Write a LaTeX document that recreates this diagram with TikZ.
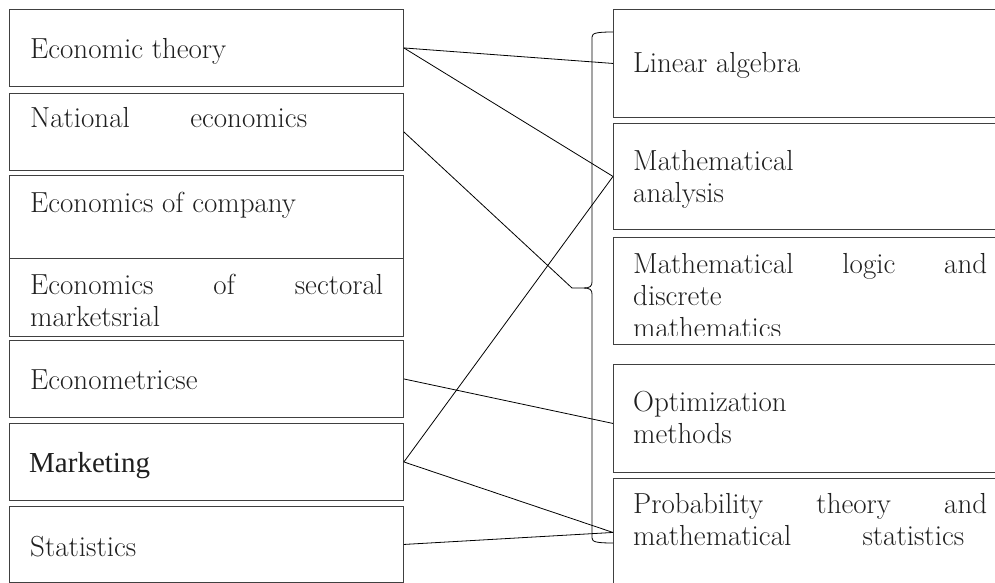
\documentclass[tikz,border=0pt]{standalone}
\usepackage{fontspec}
\newfontfamily\mkfont{Liberation Serif}
\usetikzlibrary{calc}
\tikzset{
  lbox/.style={rectangle, draw=black!75, line width=0.9pt, minimum width=394pt,
               anchor=north west, inner sep=0pt},
  rbox/.style={rectangle, draw=black!75, line width=0.9pt, minimum width=392pt,
               anchor=north west, inner sep=0pt},
  txt/.style={anchor=base west, inner sep=0pt, text=black!88, align=left,
              font=\fontsize{29}{32}\selectfont},
  ln/.style={line width=0.8pt, black},
}

\begin{document}
\begin{tikzpicture}[x=1pt,y=-1pt]
\useasboundingbox (0,0) rectangle (995,583);
% left column
\foreach \n/\ya/\yb in {theory/9/86, national/93/170, company/175/258, sectoral/258/336,
  econometrics/340/417, marketing/423/500, statistics/506/582}
  \node[lbox, minimum height={\yb-\ya}] (\n) at (9,\ya) {};
% right column
\foreach \n/\ya/\yb in {linalg/9/117, analysis/123/229, logic/237/344,
  optim/364/472, prob/478/586}
  \node[rbox, minimum height={\yb-\ya}] (\n) at (613,\ya) {};

% texts (base = last line)
\node[txt] (theory-t) at (30,59) {Economic theory};
\node[txt] (national-t) at (30,128) {\makebox[277pt][s]{National economics}};
\node[txt] (company-t) at (30,212) {Economics of company};
\node[txt] (sectoral-t) at (30,326) {\makebox[353pt][s]{Economics of sectoral}\\marketsrial};
\node[txt] (econometrics-t) at (30,389) {Econometricse};
\node[txt, font=\mkfont\fontsize{29}{32}\selectfont] (marketing-t) at (29,472) {Marketing};
\node[txt] (statistics-t) at (30,556) {Statistics};

\node[txt] (linalg-t) at (633,73) {Linear algebra};
\node[txt] (analysis-t) at (633,202) {Mathematical\\analysis};
\begin{scope}
  \clip (613,237) rectangle (995,335);
  \node[txt] (logic-t) at (633,337) {\makebox[354pt][s]{Mathematical logic and}\\discrete\\mathematics};
\end{scope}
\node[txt] (optim-t) at (633,443) {Optimization\\methods};
\node[txt] (prob-t) at (633,545) {\makebox[354pt][s]{Probability theory and}\\\makebox[331pt][s]{mathematical statistics}};

% brace
\coordinate (tip) at (572,288);
\draw[ln] (613,32) .. controls (597,32) and (592,33) .. (592,37) -- (592,282)
  .. controls (592,286) and (590,288) .. (584,288) -- (tip);
\draw[ln] (584,288) .. controls (590,288) and (592,290) .. (592,294) -- (592,538)
  .. controls (592,542) and (597,543) .. (613,543);

% links
\draw[ln] (theory.east) -- (linalg.west);
\draw[ln] (theory.east) -- (analysis.west);
\draw[ln] (national.east) -- (tip);
\draw[ln] (marketing.east) -- (analysis.west);
\draw[ln] (econometrics.east) -- ([yshift=-5pt]optim.west);
\draw[ln] (marketing.east) -- (prob.west);
\draw[ln] (statistics.east) -- (prob.west);
\end{tikzpicture}
\end{document}
